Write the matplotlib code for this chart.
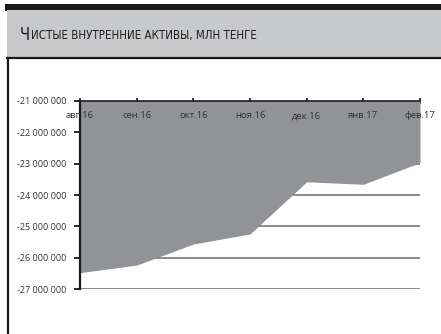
import matplotlib
matplotlib.use("Agg")
import matplotlib.pyplot as plt
from matplotlib.patches import Rectangle
from matplotlib.lines import Line2D
from matplotlib.ticker import FuncFormatter

categories = ["авг.16", "сен.16", "окт.16", "ноя.16", "дек.16", "янв.17", "фев.17"]
values = [-26470000, -26230000, -25560000, -25240000, -23580000, -23660000, -22970000]
y_ticks = [-27000000, -26000000, -25000000, -24000000, -23000000, -22000000, -21000000]
title_first = "Ч"
title_rest = "ИСТЫЕ ВНУТРЕННИЕ АКТИВЫ, МЛН ТЕНГЕ"

W, H = 441, 334
fig = plt.figure(figsize=(W / 100, H / 100), dpi=100)
fig.patch.set_facecolor("white")

# header decoration
fig.patches.append(Rectangle((5 / W, 1 - 10.5 / H), 1, 6.5 / H, transform=fig.transFigure,
                             facecolor="#1a1a1a", edgecolor="none"))
fig.patches.append(Rectangle((7 / W, 1 - 57.5 / H), 1, 47 / H, transform=fig.transFigure,
                             facecolor="#c8c9cb", edgecolor="none"))
fig.lines.append(Line2D([7 / W, 1], [1 - 57.8 / H, 1 - 57.8 / H], transform=fig.transFigure,
                        color="#1a1a1a", lw=1.6))
fig.lines.append(Line2D([7.5 / W, 7.5 / W], [0, 1 - 57.8 / H], transform=fig.transFigure,
                        color="#1a1a1a", lw=1.6))

t1 = fig.text(20 / W, 1 - 39.5 / H, title_first, fontsize=12, family="DejaVu Sans",
              fontstretch="condensed", color="#231f20", va="baseline", ha="left")
fig.canvas.draw()
bb = t1.get_window_extent()
fig.text((bb.x1 + 0.3) / W, 1 - 39.5 / H, title_rest, fontsize=8.3, family="DejaVu Sans",
         fontstretch="condensed", color="#231f20", va="baseline", ha="left")

ax = fig.add_axes([80 / W, 1 - 289.3 / H, 340 / W, 188.6 / H])
x = list(range(len(categories)))
ax.set_xlim(0, len(categories) - 1)
ax.set_ylim(y_ticks[0], y_ticks[-1])

for yt in y_ticks[:-1]:
    ax.axhline(yt, color="#8a8a8a", lw=1.4, zorder=1)
ax.fill_between(x, values, y_ticks[-1], color="#929396", lw=0, zorder=2)

for s in ["right", "bottom"]:
    ax.spines[s].set_visible(False)
ax.spines["top"].set_color("#1a1a1a")
ax.spines["top"].set_linewidth(1.2)
ax.spines["left"].set_color("#1a1a1a")
ax.spines["left"].set_linewidth(1.6)
ax.spines["top"].set_zorder(3)
ax.spines["left"].set_zorder(3)

ax.set_yticks(y_ticks)
ax.yaxis.set_major_formatter(FuncFormatter(lambda v, p: f"{int(v):,}".replace(",", " ")))
ax.tick_params(axis="y", length=4, width=1.3, color="#1a1a1a", labelsize=6.5,
               labelcolor="#333333", pad=5.5)
for lab in ax.get_yticklabels():
    lab.set_family("Open Sans")

ax.set_xticks(x)
ax.set_xticklabels(categories)
ax.xaxis.tick_top()
ax.tick_params(axis="x", which="both", bottom=False, top=True, labeltop=False, labelbottom=False,
               direction="inout", length=4, width=1.2, color="#1a1a1a")
for xi, c in zip(x, categories):
    ax.text(xi, -21480000, c, ha="center", va="center", fontsize=6.8, family="Open Sans",
            color="#333333", zorder=4)

fig.savefig("out.png", dpi=100)
